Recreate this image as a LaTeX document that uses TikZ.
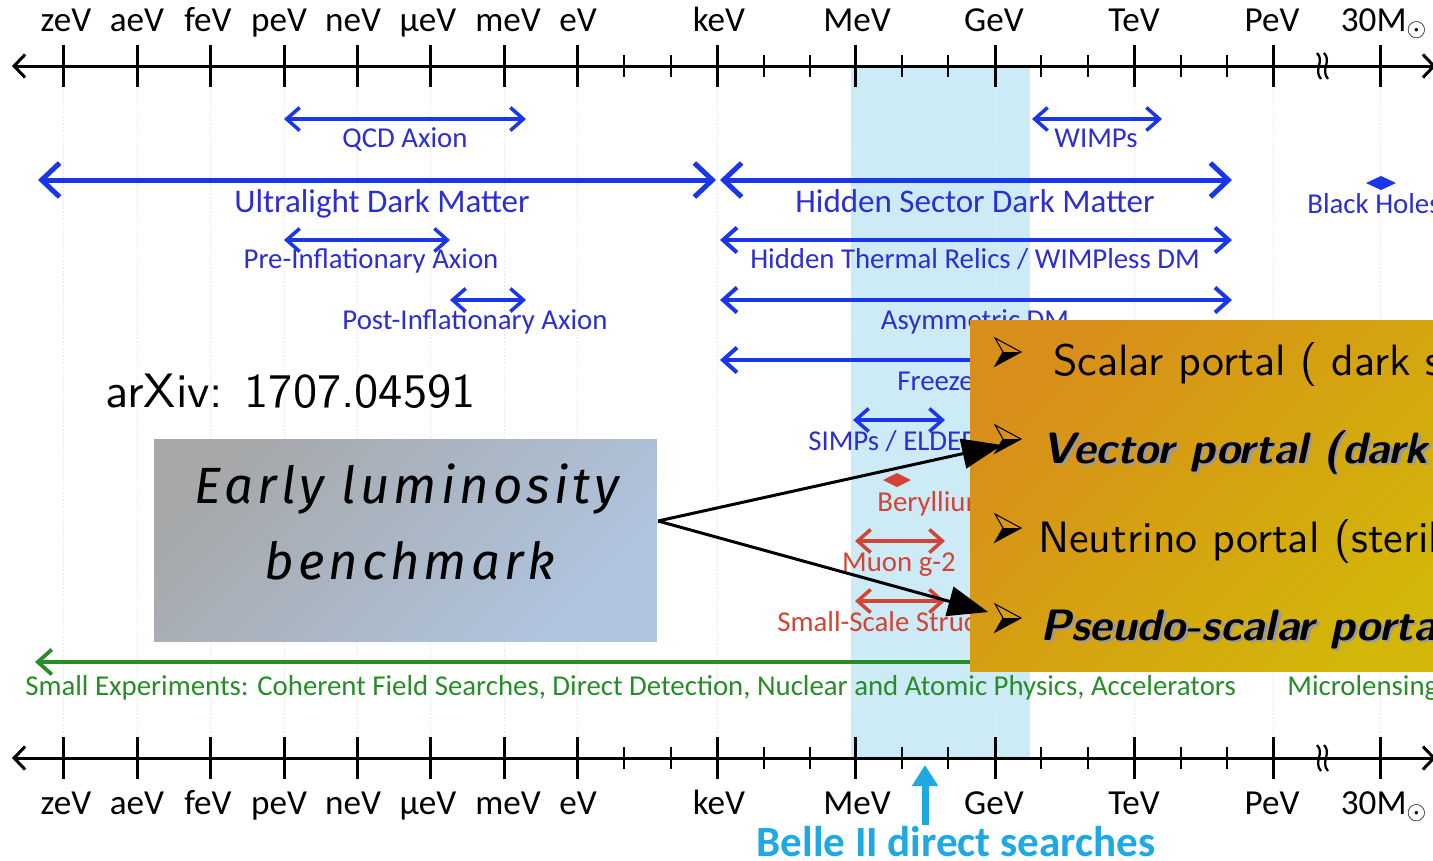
\documentclass[tikz,border=0pt]{standalone}
\usepackage{fontspec}
\usetikzlibrary{arrows.meta}
\newfontfamily\carl{Carlito}
\newfontfamily\lmsans{lmsans10}[Extension=.otf,UprightFont=*-regular,BoldFont=*-bold,ItalicFont=*-oblique,BoldItalicFont=*-boldoblique]
\newfontfamily\hand{Fira Sans}[LetterSpace=8]
\definecolor{dmblue}{RGB}{25,55,232}
\definecolor{lblue}{RGB}{45,45,212}
\definecolor{dmred}{RGB}{212,68,52}
\definecolor{dmgreen}{RGB}{40,140,40}
\definecolor{bandblue}{RGB}{205,234,247}
\definecolor{belle}{RGB}{30,168,228}
\definecolor{orA}{RGB}{216,142,26}
\definecolor{orB}{RGB}{210,182,8}
\definecolor{grA}{RGB}{166,168,170}
\definecolor{grB}{RGB}{176,197,224}
\begin{document}
\begin{tikzpicture}[x=0.02cm,y=-0.02cm,
  axisline/.style={line width=0.06cm,{Straight Barb[length=0.22cm,width=0.46cm]}-{Straight Barb[length=0.22cm,width=0.46cm]}},
  majortick/.style={line width=0.06cm},
  minortick/.style={line width=0.05cm},
  gridline/.style={black!9,line width=0.5pt,dash pattern=on 1pt off 1pt},
  axlabel/.style={font=\carl\fontsize{20}{24}\selectfont,anchor=base,inner sep=0},
  bl/.style={font=\carl\fontsize{16.4}{19}\selectfont,text=lblue,anchor=base,inner sep=0},
  blbig/.style={font=\carl\fontsize{18.8}{22}\selectfont,text=lblue,anchor=base,inner sep=0},
  rl/.style={font=\carl\fontsize{16.4}{19}\selectfont,text=dmred,anchor=base,inner sep=0},
  gl/.style={font=\carl\fontsize{16.4}{19}\selectfont,text=dmgreen,anchor=base west,inner sep=0},
  smallarrow/.style={draw=dmblue,line width=0.07cm,{Straight Barb[length=0.26cm,width=0.46cm]}-{Straight Barb[length=0.26cm,width=0.46cm]}},
  medarrow/.style={draw=dmblue,line width=0.08cm,{Straight Barb[length=0.28cm,width=0.5cm]}-{Straight Barb[length=0.28cm,width=0.5cm]}},
  bigarrow/.style={draw=dmblue,line width=0.1cm,{Straight Barb[length=0.36cm,width=0.68cm]}-{Straight Barb[length=0.36cm,width=0.68cm]}},
  redarrow/.style={draw=dmred,line width=0.07cm,{Straight Barb[length=0.26cm,width=0.46cm]}-{Straight Barb[length=0.26cm,width=0.46cm]}},
  greenarrow/.style={draw=dmgreen,line width=0.075cm,-{Straight Barb[length=0.28cm,width=0.5cm]}},
  portaltxt/.style={font=\lmsans\fontsize{25}{30}\selectfont,anchor=base west,inner sep=0},
  benchline/.style={line width=0.06cm,-{Triangle[length=0.8cm,width=0.6cm]}},
  bellearrow/.style={draw=belle,line width=0.14cm,-{Triangle[length=0.42cm,width=0.5cm]}},
  handtxt/.style={font=\hand\itshape\fontsize{29}{34}\selectfont,anchor=base,inner sep=0},
  bul/.pic={
    \draw[line width=0.6pt,line join=miter] (0,-14)--(26,0)--(0,14)--(8,0)--cycle;
    \fill (8,0)--(26,0)--(0,14)--cycle;
  }
]
\useasboundingbox (0,0) rectangle (1433,860);
\fill[white] (0,0) rectangle (1433,860);
% light blue band
\fill[bandblue] (851,66) rectangle (1030,758);
% faint grid
\foreach \x in {63,137,210,284,357,430,504,577,717,855,995,1134,1273,1380}
  \draw[gridline] (\x,88) -- (\x,738);
% axes
\foreach \yy in {66,758}{
  \draw[axisline] (12,\yy) -- (1436,\yy);
  \foreach \x in {63,137,210,284,357,430,504,577,717,855,995,1134,1273,1380}
    \draw[majortick] (\x,\yy-21) -- (\x,\yy+21);
  \foreach \x in {624,671,764,810,902,948,1041,1088,1181,1227}
    \draw[minortick] (\x,\yy-11) -- (\x,\yy+11);
  \foreach \dx in {0,7}
    \draw[line width=0.045cm] (1317+\dx,\yy-13) .. controls (1325+\dx,\yy-5) and (1313+\dx,\yy+4) .. (1321+\dx,\yy+13);
}
% axis labels
\foreach \x/\t [count=\i] in {66/zeV,137/aeV,208/feV,279/peV,353/neV,428/μeV,508/meV,578/eV,719/keV,857/MeV,994/GeV,1134/TeV,1272/PeV,1384/{30M$_\odot$}}{
  \node[axlabel] (top\i) at (\x,31) {\t};
  \node[axlabel] (bot\i) at (\x,814) {\t};
}
% blue ranges
\draw[smallarrow] (284,119) -- (526,119);
\node[bl] (qcd) at (405,147) {QCD Axion};
\draw[smallarrow] (1032,119) -- (1162,119);
\node[bl] (wimps) at (1096,147) {WIMPs};
\draw[bigarrow] (38,180) -- (716,180);
\node[blbig] (uldm) at (382,212) {Ultralight Dark Matter};
\draw[bigarrow] (720,180) -- (1232,180);
\node[blbig] (hsdm) at (975,212) {Hidden Sector Dark Matter};
\fill[dmblue] (1366,183) -- (1381,176) -- (1396,183) -- (1381,190) -- cycle;
\node[bl,anchor=base west] (bh) at (1307,213) {Black Holes};
\draw[smallarrow] (284,240) -- (450,240);
\node[bl] (prei) at (371,268) {Pre-Inflationary Axion};
\draw[medarrow] (720,240) -- (1232,240);
\node[bl] (htr) at (975,268) {Hidden Thermal Relics / WIMPless DM};
\draw[smallarrow] (450,300) -- (526,300);
\node[bl] (posti) at (475,329) {Post-Inflationary Axion};
\draw[medarrow] (720,300) -- (1232,300);
\node[bl] (asym) at (975,329) {Asymmetric DM};
\draw[medarrow] (720,360) -- (1232,360);
\node[bl,anchor=base west] (freeze) at (897,390) {Freeze-In DM};
\draw[smallarrow] (853,420) -- (945,420);
\node[bl,anchor=base west] (simps) at (808,450) {SIMPs / ELDERs};
% red
\fill[dmred] (883,480) -- (897,473) -- (911,480) -- (897,487) -- cycle;
\node[rl,anchor=base west] (beryl) at (877,511) {Beryllium-8};
\draw[redarrow] (855,541) -- (945,541);
\node[rl] (muon) at (899,571) {Muon g-2};
\draw[redarrow] (855,601) -- (945,601);
\node[rl,anchor=base west] (sss) at (777,631) {Small-Scale Structure};
% green
\draw[greenarrow] (1240,662) -- (35,662);
\node[gl] (small) at (25,695) {Small Experiments: Coherent Field Searches, Direct Detection, Nuclear and Atomic Physics, Accelerators};
\node[gl] (micro) at (1287,695) {Microlensing};
% arXiv
\node[font=\lmsans\fontsize{27.5}{32}\selectfont,anchor=base west,inner sep=0] (arxiv) at (105,407) {arXiv: 1707.04591};
% benchmark box
\node[minimum width=10.06cm,minimum height=4.06cm,inner sep=0,top color=grA,bottom color=grB,shading angle=45] (bench) at (405.5,540.5) {};
\node[handtxt] (bench1) at (407,503) {Early luminosity};
\node[handtxt] (bench2) at (410,579) {benchmark};
% portal box
\node[minimum width=9.6cm,minimum height=7.04cm,inner sep=0,top color=orA,bottom color=orB,shading angle=45] (portal) at (1210,496) {};
% connectors
\coordinate (src) at (658,521);
\coordinate (tv) at (1002,445);
\coordinate (tp) at (988,612);
\draw[benchline] (src) -- (tv);
\draw[benchline] (src) -- (tp);
% bullets
\pic at (995,352) {bul};
\pic at (995,439) {bul};
\pic at (995,528) {bul};
\pic at (995,618) {bul};
% portal texts
\node[portaltxt] (scalar) at (1053,375) {Scalar portal ( dark scalar};
\node[portaltxt,text=black!40] (vecsh) at (1044.5,465.5) {\bfseries\itshape Vector portal (dark};
\node[portaltxt] (vector) at (1042,463) {\bfseries\itshape Vector portal (dark};
\node[portaltxt] (neutrino) at (1038,552) {Neutrino portal (sterile};
\node[portaltxt,text=black!40] (pssh) at (1042.5,642.5) {\bfseries\itshape Pseudo-scalar portal};
\node[portaltxt] (pseudo) at (1040,640) {\bfseries\itshape Pseudo-scalar portal};
% Belle II
\node[font=\carl\bfseries\fontsize{24.5}{28}\selectfont,text=belle,anchor=base,inner sep=0] (belle) at (956,856) {Belle II direct searches};
\coordinate (btip) at (925,765);
\draw[bellearrow] (belle.north -| btip) -- (btip);
\end{tikzpicture}
\end{document}
